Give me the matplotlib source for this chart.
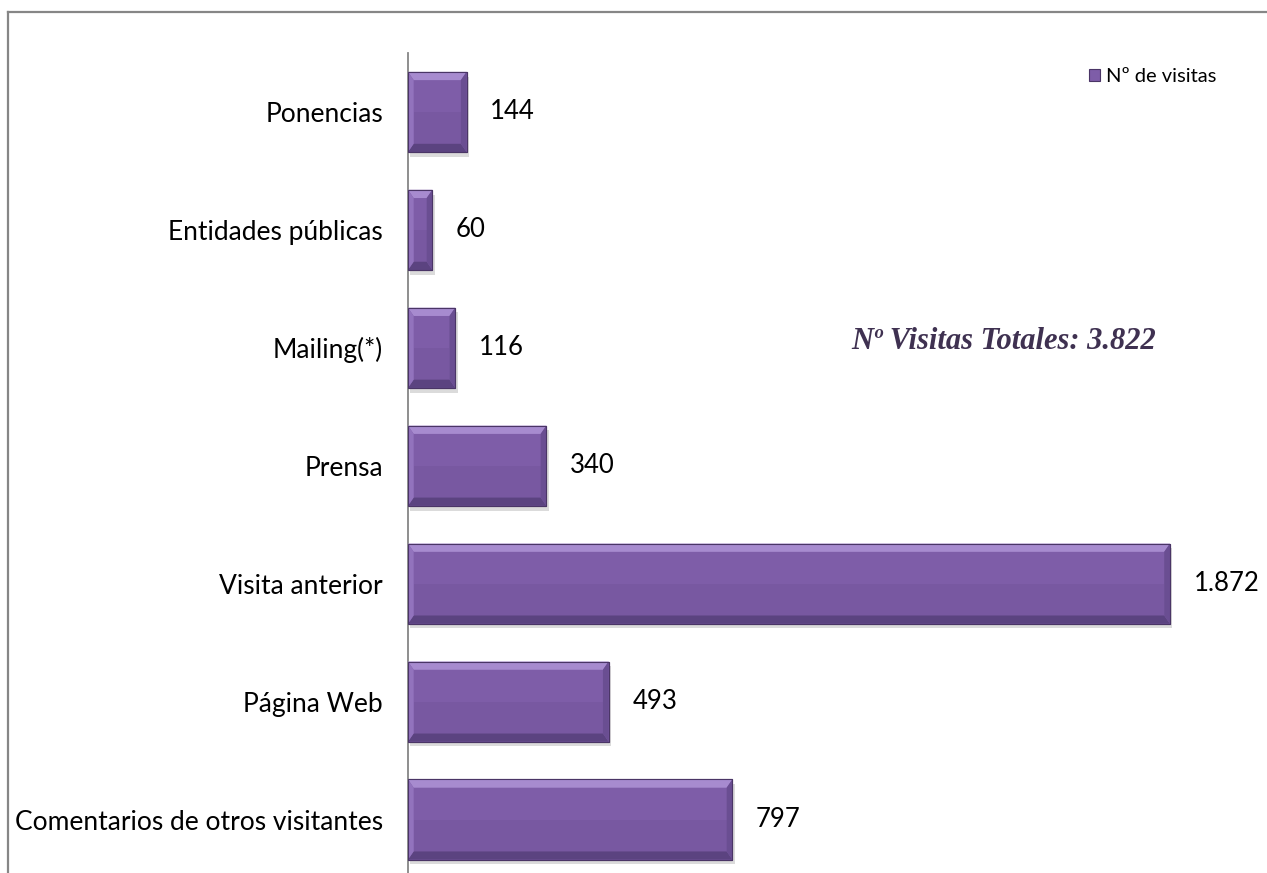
import numpy as np
import matplotlib.pyplot as plt
from matplotlib.patches import Polygon, Rectangle
from matplotlib.lines import Line2D

# ---------- データ ----------
categories = ["Comentarios de otros visitantes", "Página Web", "Visita anterior",
              "Prensa", "Mailing(*)", "Entidades públicas", "Ponencias"]
visitas = [797, 493, 1872, 340, 116, 60, 144]
value_labels = ["797", "493", "1.872", "340", "116", "60", "144"]
series_name = "Nº de visitas"
total_text = "Nº Visitas Totales: 3.822"

# ---------- スタイル ----------
plt.rcParams['font.family'] = ['Lato', 'DejaVu Sans']
bar_color = "#7E5DA8"
light = "#A78BCF"
dark = "#5B4380"
edge = "#4A3566"

fig = plt.figure(figsize=(12.67, 8.73), dpi=100)
ax = fig.add_axes([0.322, -0.0063, 0.6425, 0.9456])

y = np.arange(len(categories))
h = 0.68

# 影（右下にずらす）
for yi, v in zip(y, visitas):
    ax.add_patch(Rectangle((6, yi - h / 2 - 0.04), v, h, color="#000000",
                           alpha=0.14, lw=0, zorder=1))

bars = ax.barh(y, visitas, height=h, color=bar_color, edgecolor=edge,
               linewidth=0.8, zorder=2, label=series_name)

# ベベル風のハイライト
bx = 14   # 横方向の幅（データ単位）
by = 0.07
for yi, v in zip(y, visitas):
    top, bot = yi + h / 2, yi - h / 2
    ex = min(bx, v * 0.25)
    # 下側の陰（中央部分を少し暗く）
    ax.add_patch(Rectangle((ex, bot + by), v - 2 * ex, h / 2 - by, color="#6E5196",
                           alpha=0.35, lw=0, zorder=3))
    ax.add_patch(Polygon([(0, top), (v, top), (v - ex, top - by), (ex, top - by)],
                         closed=True, color=light, lw=0, zorder=3))
    ax.add_patch(Polygon([(0, bot), (v, bot), (v - ex, bot + by), (ex, bot + by)],
                         closed=True, color=dark, lw=0, zorder=3))
    ax.add_patch(Polygon([(0, bot), (ex, bot + by), (ex, top - by), (0, top)],
                         closed=True, color="#9273BD", lw=0, zorder=3))
    ax.add_patch(Polygon([(v, bot), (v - ex, bot + by), (v - ex, top - by), (v, top)],
                         closed=True, color="#6A4E92", lw=0, zorder=3))
    ax.add_patch(Rectangle((0, bot), v, h, fill=False, edgecolor=edge, lw=0.8, zorder=4))

for yi, v, lab in zip(y, visitas, value_labels):
    ax.text(v + 58, yi, lab, va='center', ha='left', fontsize=18.5, color='black')

ax.set_ylim(-0.5, len(categories) - 0.5)
ax.set_xlim(0, 2000)

ax.set_yticks(y)
ax.set_yticklabels(categories, fontsize=19)
ax.tick_params(axis='y', length=0, pad=18)
ax.set_xticks([])
for s in ["top", "right", "bottom"]:
    ax.spines[s].set_visible(False)
ax.spines["left"].set_color("#868686")
ax.spines["left"].set_linewidth(1.3)

# 合計テキスト
fig.text(0.672, 0.609, total_text, fontsize=22, fontstyle='italic', fontweight='bold',
         family='Liberation Serif', color="#3F3151", ha='left', va='center')

# 凡例
leg = ax.legend(handles=[bars], loc='center left', bbox_to_anchor=(0.836, 0.971),
                frameon=False, fontsize=14.5, handlelength=0.55, handleheight=0.55,
                handletextpad=0.3, borderaxespad=0, borderpad=0)

# 外枠（上と左）
fig.add_artist(Line2D([0.0067, 1.0], [0.9868, 0.9868], color="#868686", lw=1.6,
                      transform=fig.transFigure))
fig.add_artist(Line2D([0.0067, 0.0067], [0.0, 0.9868], color="#868686", lw=1.6,
                      transform=fig.transFigure))

fig.savefig("out.png", dpi=100)
